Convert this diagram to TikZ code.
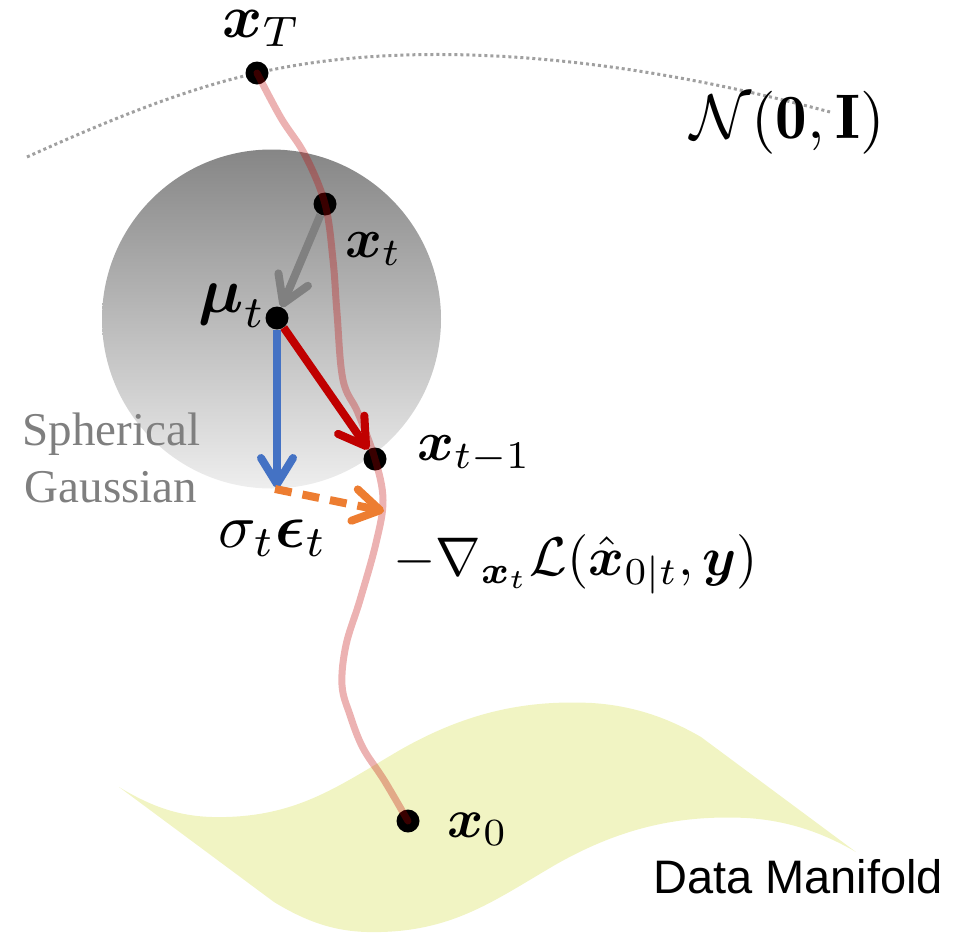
\documentclass[tikz,border=0pt]{standalone}
\usepackage{fontspec}
\usepackage{amsmath}
\usepackage{graphicx}
\usetikzlibrary{arrows.meta}
\newfontfamily\sansA{Liberation Sans}
\newfontfamily\serifA{Liberation Serif}
\definecolor{manif}{RGB}{241,244,195}
\definecolor{gtop}{RGB}{134,134,134}
\definecolor{gbot}{RGB}{238,238,238}
\definecolor{darr}{RGB}{192,0,0}
\definecolor{barr}{RGB}{68,114,196}
\definecolor{oarr}{RGB}{237,125,49}
\definecolor{garr}{RGB}{128,128,128}
\definecolor{dotline}{RGB}{160,160,160}
\definecolor{tgray}{RGB}{127,127,127}
\tikzset{
  dotpt/.style={circle,fill=black,inner sep=0pt,minimum size=23pt},
  traj/.style={draw=darr,draw opacity=0.3,line width=7pt,line cap=round},
  arr/.style={line width=8pt,-{Straight Barb[length=26pt,width=32pt,round]}},
  lab/.style={inner sep=0pt,anchor=base west},
  manifoldtxt/.style={inner sep=0pt,anchor=base west,font=\sansA\fontsize{47}{55}\selectfont},
  gausstxt/.style={inner sep=0pt,anchor=base,text=tgray,font=\serifA\fontsize{47}{55}\selectfont}
}
\begin{document}
\begin{tikzpicture}[x=1pt,y=-1pt]
\useasboundingbox (0,0) rectangle (956,932);
% data manifold
\fill[manif] (119,787) .. controls (160,812) and (190,818) .. (226,817)
  .. controls (300,815) and (340,785) .. (400,750)
  .. controls (470,710) and (530,700) .. (592,703)
  .. controls (640,706) and (675,722) .. (701,737)
  -- (856,852)
  .. controls (830,837) and (795,821) .. (747,818)
  .. controls (685,815) and (625,825) .. (555,865)
  .. controls (495,900) and (455,930) .. (381,932)
  .. controls (345,933) and (315,927) .. (274,902) -- cycle;
% spherical gaussian
\shade[top color=gtop,bottom color=gbot] (271.5,319) circle[radius=169.5];
% prior dotted arc
\draw[dotline,line width=3pt,dash pattern=on 3pt off 3pt]
  (27,157) .. controls (120,115) and (190,88) .. (257,73)
  .. controls (400,40) and (600,50) .. (830,112);
% points
\node[dotpt] (xT) at (257,73) {};
\node[dotpt] (xt) at (325,204) {};
\node[dotpt] (mu) at (277,318) {};
\node[dotpt] (xtm) at (375,459) {};
\node[dotpt] (x0) at (408,821) {};
\coordinate (bl) at (277,488);
\coordinate (eps) at (275,489);
\coordinate (g) at (384,511);
% trajectory
\draw[traj] plot[smooth,tension=0.6] coordinates {(xT.center) (281,118) (305,155) (xt.center) (333,260) (337,313) (343,380) (358,413) (xtm.center) (383,500) (376,543) (360,600) (346,645) (342,685) (350,715) (363,748) (384,780) (x0.center)};
% arrows
\draw[arr,garr] (xt) -- (mu);
\draw[arr,darr] (mu) -- (xtm);
\draw[arr,barr] (mu) -- (bl);
\draw[arr,oarr,dash pattern=on 17pt off 11pt] (eps) -- (g);
% labels
\node[lab] (lxT) at (222,37) {\scalebox{6.1}{$\boldsymbol{x}_T$}};
\node[lab] (lxt) at (345,257) {\scalebox{5.6}{$\boldsymbol{x}_t$}};
\node[lab] (lmu) at (198,312) {\scalebox{6.4}{$\boldsymbol{\mu}_t$}};
\node[lab] (lxtm) at (417,460) {\scalebox{5.6}{$\boldsymbol{x}_{t-1}$}};
\node[lab] (lx0) at (447,837) {\scalebox{5.5}{$\boldsymbol{x}_0$}};
\node[lab] (lsig) at (218,547) {\scalebox{6.2}{$\sigma_t\boldsymbol{\epsilon}_t$}};
\node[lab] (lgrad) at (393,575) {\scalebox{5.45}{$-\nabla_{\boldsymbol{x}_t}\mathcal{L}(\hat{\boldsymbol{x}}_{0|t},\boldsymbol{y})$}};
\node[lab] (lN) at (690,138) {\scalebox{6.3}{$\mathcal{N}(\mathbf{0},\mathbf{I})$}};
\node[gausstxt] (sph) at (111.5,445) {Spherical};
\node[gausstxt] (gau) at (111,502) {Gaussian};
\node[manifoldtxt] (dm) at (653,893) {Data Manifold};
\end{tikzpicture}
\end{document}
